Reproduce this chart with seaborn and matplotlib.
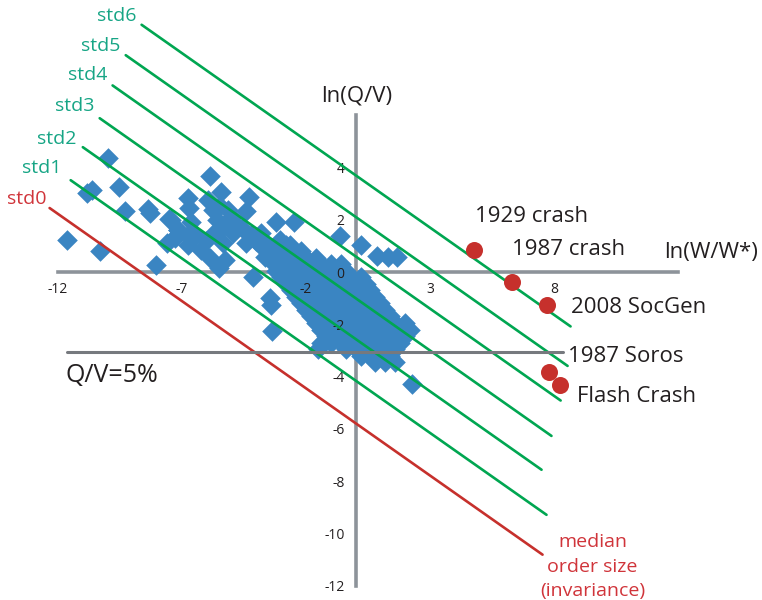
import numpy as np
import pandas as pd
import matplotlib
matplotlib.use("Agg")
import matplotlib.pyplot as plt
import seaborn as sns

# --- data ------------------------------------------------------------------
# isolated diamonds (ln(W/W*), ln(Q/V))
outlier_x = [-9.99, -10.62, -10.82, -9.54, -9.31, -8.37, -8.31, -7.54, -11.64, -10.29,
             -8.04, -7.60, -7.26, -7.18,
             -5.89, -5.44, -4.31, -6.76, -6.72, -5.96, -5.75, -5.48, -5.15, -4.41,
             -3.20, -2.50, -7.43, -6.62, -7.16, -7.30, -6.76, -6.42, -6.76, -6.22,
             -6.02, -5.89, -5.28, -5.51, -5.35, -5.48, -4.95, -4.81, -4.21, -4.14,
             -3.87, -3.47, -3.06, -2.66, -3.67, -3.33, -2.86, -3.47, -2.66, -2.46,
             -5.60, -5.20, -5.00, -4.60, -5.70, -4.40, -4.00, -3.80,
             -0.62, 0.20, 0.86, 1.30, 1.67,
             -3.40, -3.36, 2.28, -1.50]
outlier_y = [4.37, 3.15, 3.03, 3.26, 2.32, 2.41, 2.26, 2.04, 1.23, 0.82,
             0.27, 1.10, 1.36, 1.59,
             3.69, 3.05, 2.86, 2.83, 2.45, 2.77, 2.38, 2.51, 2.38, 2.32,
             1.93, 1.93, 2.00, 1.93, 1.62, 1.30, 1.42, 1.42, 1.04, 0.85,
             1.17, 0.53, 0.46, 0.14, 1.10, 1.62, 1.49, 1.81, 1.42, -0.18,
             1.04, 0.85, 1.23, 1.04, 0.59, 0.33, 0.40, -1.01, 0.08, -0.82,
             2.00, 1.90, 2.10, 1.70, 1.50, 1.10, 1.20, 1.50,
             1.36, 1.02, 0.62, 0.58, 0.57,
             -1.27, -2.27, -4.30, -2.95]

# dense core of the cloud, row by row
core_x = [-3.6, -3.2, -2.8,
          -3.4, -3.0, -2.6, -2.2,
          -3.2, -2.8, -2.4, -2.0, -1.6,
          -3.0, -2.6, -2.2, -1.8, -1.4, -1.0, -0.6,
          -3.2, -2.8, -2.4, -2.0, -1.6, -1.2, -0.8, -0.4,
          -3.0, -2.6, -2.2, -1.8, -1.4, -1.0, -0.6, -0.2, 0.2,
          -2.8, -2.4, -2.0, -1.6, -1.2, -0.8, -0.4, 0.0, 0.4,
          -2.6, -2.2, -1.8, -1.4, -1.0, -0.6, -0.2, 0.2, 0.6,
          -2.4, -2.0, -1.6, -1.2, -0.8, -0.4, 0.0, 0.4, 0.8,
          -2.2, -1.8, -1.4, -1.0, -0.6, -0.2, 0.2, 0.6, 1.0,
          -2.0, -1.6, -1.2, -0.8, -0.4, 0.0, 0.4, 0.8, 1.2,
          -1.8, -1.4, -1.0, -0.6, -0.2, 0.2, 0.6, 1.0, 1.4,
          -1.6, -1.2, -0.8, -0.4, 0.0, 0.4, 0.8, 1.2, 1.6, 2.0,
          -1.4, -1.0, -0.6, -0.2, 0.2, 0.6, 1.0, 1.4, 1.8, 2.2,
          -1.2, -0.8, -0.4, 0.0, 0.4, 0.8, 1.2, 1.6, 2.0,
          -1.4, -1.0, -0.6, -0.2, 0.2, 0.6, 1.0, 1.4, 1.8,
          -0.4, 0.0, 0.4, 0.8, 1.2, 1.6,
          0.2, 0.6, 1.0, 1.4,
          0.8, 1.2, 1.6]
core_y = [1.05] * 3 + [0.80] * 4 + [0.55] * 5 + [0.30] * 7 + [0.05] * 8 \
    + [-0.20] * 9 + [-0.45] * 9 + [-0.70] * 9 + [-0.95] * 9 + [-1.20] * 9 \
    + [-1.45] * 9 + [-1.70] * 9 + [-1.95] * 10 + [-2.20] * 10 + [-2.45] * 9 \
    + [-2.70] * 9 + [-2.95] * 6 + [-3.20] * 4 + [-3.45] * 3

# crash events
crash_names = ["1929 crash", "1987 crash", "2008 SocGen", "1987 Soros", "Flash Crash"]
crash_x = [4.76, 6.29, 7.70, 7.82, 8.23]
crash_y = [0.85, -0.38, -1.27, -3.81, -4.31]
crash_label_x = [4.80, 6.29, 8.67, 8.55, 8.91]
crash_label_y = [2.12, 0.85, -1.35, -3.23, -4.77]

# invariance lines, slope -2/3, shifted by one std each
band_names = ["std0", "std1", "std2", "std3", "std4", "std5", "std6"]
band_slope = -2.0 / 3.0
band_intercept = [-5.78, -4.15, -2.56, -1.00, 0.60, 2.11, 3.70]
band_x_start = [-12.34, -11.49, -11.00, -10.32, -9.80, -9.27, -8.63]
band_x_end = [7.54, 7.70, 7.50, 7.90, 8.27, 8.55, 8.67]
band_label_x = [-12.46, -11.85, -11.25, -10.52, -10.00, -9.48, -8.83]
band_label_y = [2.81, 3.96, 5.08, 6.35, 7.54, 8.65, 9.80]

qv_level = -3.05
qv_x = [-11.65, 8.35]

x_ticks = [-12, -7, -2, 3, 8, 13]
x_tick_labels = ["-12", "-7", "-2", "3", "8", ""]
y_ticks = [-12, -10, -8, -6, -4, -2, 0, 2, 4, 6]
y_tick_labels = ["-12", "-10", "-8", "-6", "-4", "-2", "0", "2", "4", ""]

# --- styling ---------------------------------------------------------------
sns.set_theme(style="white")
plt.rcParams["font.family"] = ["Open Sans", "DejaVu Sans"]

BLUE = "#3a85c2"
GREEN = "#00a651"
TEAL = "#16a585"
RED = "#c6302c"
RED_TXT = "#d0343a"
AXIS = "#8d939a"
INK = "#231f20"

fig = plt.figure(figsize=(7.62, 6.0), dpi=100)
ax = fig.add_axes([0, 0, 1, 1])
ax.set_xlim(-14.34, 16.39)
ax.set_ylim(-12.54, 10.40)

# diamonds
pts = pd.DataFrame({"x": outlier_x + core_x, "y": outlier_y + core_y})
sns.scatterplot(data=pts, x="x", y="y", marker="D", s=110, color=BLUE,
                linewidth=0, ax=ax, zorder=3, legend=False)

# band lines
rows = []
for name, c, x0, x1 in zip(band_names, band_intercept, band_x_start, band_x_end):
    rows.append({"band": name, "x": x0, "y": band_slope * x0 + c})
    rows.append({"band": name, "x": x1, "y": band_slope * x1 + c})
bands = pd.DataFrame(rows)
pal = {n: (RED if n == "std0" else GREEN) for n in band_names}
sns.lineplot(data=bands, x="x", y="y", hue="band", units="band", estimator=None,
             sort=False, palette=pal, linewidth=1.9, legend=False, ax=ax, zorder=4)

for name, lx, ly in zip(band_names, band_label_x, band_label_y):
    ax.text(lx, ly, name, ha="right", va="center", fontsize=14,
            color=(RED_TXT if name == "std0" else TEAL), zorder=6)

# Q/V = 5% level
qv = pd.DataFrame({"x": qv_x, "y": [qv_level, qv_level]})
sns.lineplot(data=qv, x="x", y="y", color="#76797e", linewidth=2.2, ax=ax,
             zorder=4, legend=False)
ax.text(-11.69, -3.96, "Q/V=5%", ha="left", va="center", fontsize=18, color=INK, zorder=6)

# crash points
crashes = pd.DataFrame({"x": crash_x, "y": crash_y, "name": crash_names})
sns.scatterplot(data=crashes, x="x", y="y", s=150, color=RED, linewidth=0,
                ax=ax, zorder=5, legend=False)
for name, lx, ly in zip(crash_names, crash_label_x, crash_label_y):
    ax.text(lx, ly, name, ha="left", va="center", fontsize=16, color=INK, zorder=6)

ax.text(9.56, -11.27, "median\norder size\n(invariance)", ha="center", va="center",
        fontsize=14, color=RED_TXT, linespacing=1.45, zorder=6)

# axes through the origin
for side in ["top", "right"]:
    ax.spines[side].set_visible(False)
ax.spines["left"].set_position(("data", 0))
ax.spines["bottom"].set_position(("data", 0))
ax.spines["left"].set_bounds(-12, 6)
ax.spines["bottom"].set_bounds(-12, 13)
for side in ["left", "bottom"]:
    ax.spines[side].set_color(AXIS)
    ax.spines[side].set_linewidth(2.6)
    ax.spines[side].set_zorder(2.5)

ax.set_xticks(x_ticks)
ax.set_xticklabels(x_tick_labels)
ax.set_yticks(y_ticks)
ax.set_yticklabels(y_tick_labels)
ax.tick_params(axis="both", direction="out", length=5, width=2.4, color=AXIS,
               labelsize=10, labelcolor=INK, pad=2)
ax.tick_params(axis="y", pad=3)
ax.xaxis.set_zorder(3.5)
ax.yaxis.set_zorder(3.5)
ax.set_xlabel("")
ax.set_ylabel("")
ax.grid(False)

ax.text(0.04, 6.73, "ln(Q/V)", ha="center", va="center", fontsize=16, color=INK)
ax.text(12.46, 0.73, "ln(W/W*)", ha="left", va="center", fontsize=16, color=INK)

fig.savefig("out.png", dpi=100, facecolor="white")
